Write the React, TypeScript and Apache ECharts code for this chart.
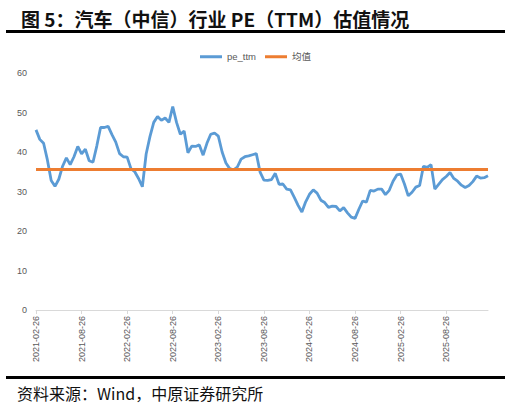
import * as echarts from 'echarts';
import { useEffect, useRef } from 'react';

// semi-monthly sampling: the 26th and the 11th of each month, from 2021-02-26
const startYear = 2021;
const startMonth = 2;
const pointCount = 120;
const categories: string[] = [];
for (let i = 0; i < pointCount; i++) {
  const step = Math.floor((i + 1) / 2);
  const monthIndex = startMonth - 1 + step;
  const year = startYear + Math.floor(monthIndex / 12);
  const month = (monthIndex % 12) + 1;
  const day = i % 2 === 0 ? '26' : '11';
  categories.push(`${year}-${String(month).padStart(2, '0')}-${day}`);
}

const peTtm = [
  45.6, 43.2, 42.2, 38.0, 32.8, 31.3, 33.1, 36.4, 38.5, 36.8,
  38.8, 41.4, 39.5, 40.7, 37.8, 37.4, 41.5, 46.2, 46.2, 46.5,
  44.4, 42.5, 39.6, 38.8, 38.7, 35.8, 35.0, 33.3, 31.2, 39.5,
  43.9, 47.5, 49.0, 48.0, 48.6, 47.5, 51.5, 47.5, 44.5, 45.3,
  39.8, 41.5, 41.4, 41.8, 39.2, 42.2, 44.5, 44.8, 44.0, 40.0,
  37.2, 35.8, 35.5, 36.2, 38.2, 38.8, 39.0, 39.3, 39.6, 34.9,
  32.9, 32.8, 33.0, 34.6, 31.8, 31.9, 30.6, 30.4, 28.5, 26.5,
  24.8, 27.4, 29.3, 30.4, 29.6, 27.8, 27.2, 26.0, 26.3, 26.2,
  25.1, 25.9, 24.6, 23.5, 23.2, 25.5, 27.6, 27.3, 30.3, 30.1,
  30.6, 30.6, 29.2, 30.3, 32.6, 34.2, 34.4, 31.9, 28.9, 29.8,
  31.1, 31.5, 36.4, 36.1, 36.8, 30.6, 31.8, 33.0, 33.8, 34.8,
  33.3, 32.6, 31.6, 31.0, 31.5, 32.5, 33.9, 33.4, 33.5, 34.0,
];

const meanValue = 35.6;
const meanLine = categories.map(() => meanValue);

const seriesNames = ['pe_ttm', '均值'];
const yTicks = { min: 0, max: 60, interval: 10 };

const titleText = '图 5：汽车（中信）行业 PE（TTM）估值情况';
const sourceText = '资料来源：Wind，中原证券研究所';

const fontFamily = '"Liberation Sans", Arial, "Noto Sans CJK SC", sans-serif';
const cjkFont = '"Noto Sans CJK SC", "Liberation Sans", sans-serif';

export default function App() {
  const ref = useRef<HTMLDivElement>(null);

  useEffect(() => {
    const el = ref.current;
    if (!el) return undefined;
    document.body.style.margin = '0';
    const chart = echarts.init(el, undefined, { renderer: 'svg' });

    chart.setOption({
      animation: false,
      backgroundColor: '#ffffff',
      title: {
        text: titleText,
        left: 16,
        top: 4,
        textStyle: {
          fontFamily: cjkFont,
          fontSize: 19,
          fontWeight: 'bold',
          color: '#111111',
        },
      },
      legend: {
        data: seriesNames,
        top: 47,
        left: 'center',
        icon: 'rect',
        itemWidth: 22,
        itemHeight: 3,
        itemGap: 9,
        textStyle: { fontFamily, fontSize: 9.5, color: '#595959' },
      },
      grid: { left: 36, right: 23, top: 73, bottom: 99, containLabel: false },
      xAxis: {
        type: 'category',
        data: categories,
        boundaryGap: false,
        axisLine: { lineStyle: { color: '#d9d9d9', width: 1 } },
        axisTick: {
          show: true,
          interval: 11,
          length: 4,
          lineStyle: { color: '#d9d9d9' },
        },
        axisLabel: {
          interval: 11,
          rotate: 90,
          margin: 6,
          fontFamily,
          fontSize: 9,
          color: '#595959',
        },
        splitLine: { show: false },
      },
      yAxis: {
        type: 'value',
        min: yTicks.min,
        max: yTicks.max,
        interval: yTicks.interval,
        axisLine: { show: false },
        axisTick: { show: false },
        splitLine: { show: false },
        axisLabel: { margin: 9, fontFamily, fontSize: 9, color: '#595959' },
      },
      series: [
        {
          name: seriesNames[0],
          type: 'line',
          data: peTtm,
          symbol: 'none',
          lineStyle: { color: '#5b9bd5', width: 2.8 },
          itemStyle: { color: '#5b9bd5' },
          z: 2,
        },
        {
          name: seriesNames[1],
          type: 'line',
          data: meanLine,
          symbol: 'none',
          lineStyle: { color: '#ed7d31', width: 3 },
          itemStyle: { color: '#ed7d31' },
          z: 3,
        },
      ],
      graphic: [
        {
          type: 'rect',
          silent: true,
          shape: { x: 6, y: 30, width: 499, height: 3 },
          style: { fill: '#000000' },
        },
        {
          type: 'rect',
          silent: true,
          shape: { x: 6, y: 376, width: 499, height: 3 },
          style: { fill: '#000000' },
        },
        {
          type: 'text',
          silent: true,
          left: 17,
          top: 385,
          style: {
            text: sourceText,
            fontFamily: cjkFont,
            fontSize: 16,
            fill: '#111111',
          },
        },
      ],
    });

    return () => chart.dispose();
  }, []);

  return (
    <div
      ref={ref}
      style={{ position: 'absolute', left: 0, top: 0, width: 511, height: 409, background: '#fff' }}
    />
  );
}
